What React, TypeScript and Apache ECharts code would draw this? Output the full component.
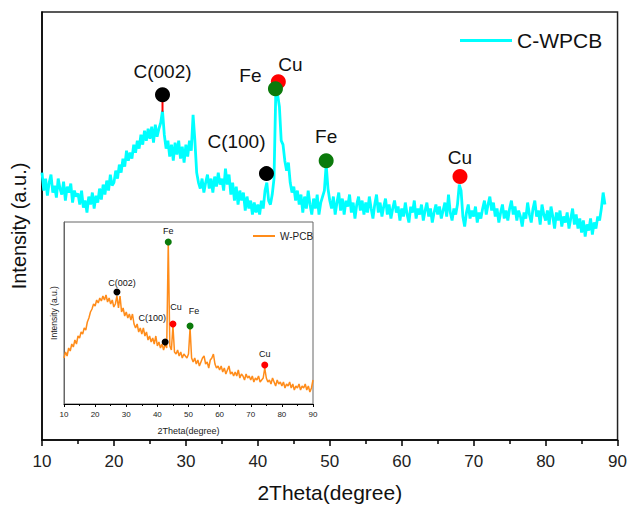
import React, { useEffect, useRef } from "react";
import * as echarts from "echarts";

// 2Theta grid and intensities (arbitrary units) for the main C-WPCB pattern
const mainStart = 10;
const mainStep = 0.25;
const mainIntensity = [
  268, 250, 262, 245, 258, 266, 248, 255, 243, 262, 252, 246, 259, 240, 254, 248, 257, 238, 250, 244,
  247, 236, 250, 233, 240, 228, 244, 236, 248, 232, 245, 238, 252, 241, 256, 246, 260, 250, 266, 255,
  258, 270, 262, 276, 268, 282, 274, 290, 280, 288, 282, 296, 288, 300, 292, 306, 296, 310, 300, 312,
  302, 314, 298, 316, 304, 312, 318, 330, 306, 292, 300, 284, 296, 280, 298, 286, 300, 282, 294, 278,
  296, 284, 300, 290, 326, 300, 268, 258, 252, 262, 248, 258, 266, 252, 262, 248, 264, 254, 268, 256,
  262, 250, 272, 256, 266, 246, 258, 240, 254, 236, 250, 240, 248, 230, 244, 232, 240, 226, 238, 228,
  236, 226, 240, 232, 250, 258, 240, 236, 246, 262, 350, 346, 334, 300, 296, 280, 270, 278, 258, 248,
  254, 240, 250, 236, 246, 228, 244, 232, 250, 236, 226, 242, 232, 246, 226, 238, 244, 250, 276, 252,
  240, 232, 244, 226, 238, 248, 230, 242, 226, 240, 234, 246, 228, 238, 222, 236, 244, 230, 240, 226,
  238, 228, 244, 232, 222, 236, 246, 228, 238, 224, 234, 242, 226, 236, 222, 232, 240, 228, 234, 220,
  232, 224, 238, 226, 218, 234, 228, 240, 222, 232, 226, 236, 220, 230, 238, 224, 232, 218, 228, 236,
  226, 234, 222, 230, 238, 224, 246, 228, 220, 232, 226, 236, 256, 250, 224, 214, 228, 236, 222, 230,
  224, 234, 218, 228, 222, 232, 240, 226, 236, 244, 230, 238, 224, 232, 218, 228, 236, 222, 230, 220,
  232, 240, 226, 234, 220, 230, 224, 214, 228, 222, 238, 226, 218, 232, 240, 224, 230, 216, 236, 226,
  220, 230, 216, 234, 224, 212, 228, 220, 230, 214, 224, 218, 228, 212, 222, 232, 216, 226, 212, 222,
  208, 220, 204, 216, 210, 222, 206, 218, 212, 224, 220, 232, 248, 236,
];

// 2Theta grid and intensities for the inset W-PCB pattern
const insetStart = 10;
const insetStep = 0.5;
const insetIntensity = [
  46, 52, 48, 56, 53, 60, 57, 64, 60, 68,
  66, 72, 70, 76, 74, 82, 86, 92, 95, 100,
  98, 104, 101, 106, 103, 108, 104, 109, 102, 106,
  100, 104, 97, 100, 108, 96, 108, 92, 96, 88,
  92, 86, 90, 84, 90, 80, 76, 80, 72, 76,
  70, 76, 68, 72, 64, 68, 62, 66, 60, 68,
  58, 62, 56, 60, 54, 60, 56, 162, 58, 54,
  78, 52, 50, 54, 48, 52, 46, 50, 48, 46,
  50, 76, 46, 42, 46, 40, 44, 38, 42, 46,
  48, 40, 42, 36, 44, 46, 50, 40, 36, 38,
  34, 38, 32, 36, 30, 34, 38, 30, 32, 28,
  32, 28, 34, 26, 30, 28, 24, 30, 26, 28,
  24, 28, 22, 26, 24, 28, 22, 24, 26, 36,
  26, 22, 24, 20, 26, 22, 18, 24, 20, 22,
  18, 22, 16, 20, 18, 22, 16, 20, 14, 18,
  16, 20, 14, 18, 16, 20, 14, 18, 12, 16,
  24,
];

// Peak markers
const mainPeakLabels = ["C(002)", "C(100)", "Fe", "Cu", "Fe", "Cu"];
const mainPeakPhases = ["C", "C", "Fe", "Cu", "Fe", "Cu"];
const mainPeakX = [26.75, 41.2, 42.45, 42.85, 49.5, 68.1];
const mainPeakY = [346, 267, 352, 359, 280, 264];

const insetPeakLabels = ["C(002)", "C(100)", "Fe", "Cu", "Fe", "Cu"];
const insetPeakPhases = ["C", "C", "Fe", "Cu", "Fe", "Cu"];
const insetPeakX = [27, 42.5, 43.5, 45, 50.5, 74.5];
const insetPeakY = [112, 62, 162, 80, 78, 39];

// Label placement (style)
const mainLabelOffsets = [[0, -23], [-30, -32], [-25, -13], [12, -17], [0, -24], [0, -19]];
const insetLabelOffsets = [[5, -9], [-13, -24], [0, -11], [3, -17], [4, -15], [0, -11]];

const phaseColors: Record<string, string> = { C: "#000000", Fe: "#0b7a0b", Cu: "#ff0000" };
const phaseOrder = ["Cu", "C", "Fe"];

const FONT = "Liberation Sans, Arial, sans-serif";

function peakSeries(
  labels: string[], phases: string[], xs: number[], ys: number[], offsets: number[][],
  axisIndex: number, size: number, fontSize: number
) {
  return phaseOrder.map((ph) => ({
    type: "scatter",
    xAxisIndex: axisIndex,
    yAxisIndex: axisIndex,
    symbolSize: size,
    z: 5,
    itemStyle: { color: phaseColors[ph], opacity: 1 },
    data: labels
      .map((lab, i) => ({ i, lab }))
      .filter(({ i }) => phases[i] === ph)
      .map(({ i, lab }) => ({
        value: [xs[i], ys[i]],
        label: {
          show: true,
          formatter: lab,
          position: "inside",
          offset: offsets[i],
          color: "#111",
          fontSize,
          fontFamily: FONT,
        },
      })),
  }));
}

export default function App() {
  const ref = useRef<HTMLDivElement>(null);
  useEffect(() => {
    if (!ref.current) return;
    const chart = echarts.init(ref.current, undefined, { renderer: "svg" });
    const mainData = mainIntensity.map((v, i) => [mainStart + i * mainStep, v]);
    const insetData = insetIntensity.map((v, i) => [insetStart + i * insetStep, v]);

    const xAxisCommon = (fs: number, tickLen: number, minorLen: number, margin: number, lw: number) => ({
      type: "value",
      min: 10,
      max: 90,
      interval: 10,
      axisLine: { show: true, onZero: false, lineStyle: { color: "#000", width: lw } },
      axisTick: { show: true, inside: false, length: tickLen, lineStyle: { color: "#000", width: lw } },
      minorTick: { show: true, splitNumber: 2, length: minorLen, lineStyle: { color: "#000", width: lw } },
      splitLine: { show: false },
      axisLabel: { fontSize: fs, color: "#222", margin, fontFamily: FONT },
    });

    chart.setOption({
      animation: false,
      backgroundColor: "#fff",
      grid: [
        { left: 42, right: 11, top: 12, bottom: 67, show: true, borderColor: "#222", borderWidth: 1.5 },
        { left: 64, right: 317, top: 222, bottom: 104, show: true, borderColor: "#666", borderWidth: 1, backgroundColor: "#fff", z: 3 },
      ],
      legend: [
        {
          data: [{ name: "C-WPCB", icon: "rect" }],
          left: 455,
          top: 25,
          itemWidth: 52,
          itemHeight: 3,
          textStyle: { fontSize: 21, color: "#111", fontFamily: FONT },
        },
        {
          data: [{ name: "W-PCB", icon: "rect" }],
          left: 248,
          top: 226,
          itemWidth: 22,
          itemHeight: 2,
          z: 6,
          textStyle: { fontSize: 10, color: "#222", fontFamily: FONT },
        },
      ],
      xAxis: [
        {
          ...xAxisCommon(17, 6, 4, 13, 1.5),
          gridIndex: 0,
          name: "2Theta(degree)",
          nameLocation: "middle",
          nameGap: 42,
          nameTextStyle: { fontSize: 21, color: "#111", fontFamily: FONT },
        },
        {
          ...xAxisCommon(8, 3, 2, 6, 1),
          gridIndex: 1,
          z: 4,
          name: "2Theta(degree)",
          nameLocation: "middle",
          nameGap: 22,
          nameTextStyle: { fontSize: 9, color: "#222", fontFamily: FONT },
        },
      ],
      yAxis: [
        {
          type: "value",
          gridIndex: 0,
          min: 0,
          max: 429,
          axisLine: { show: true, lineStyle: { color: "#000", width: 1.5 } },
          axisTick: { show: false },
          axisLabel: { show: false },
          splitLine: { show: false },
          name: "Intensity (a.u.)",
          nameLocation: "middle",
          nameGap: 13,
          nameTextStyle: { fontSize: 20, color: "#111", fontFamily: FONT },
        },
        {
          type: "value",
          gridIndex: 1,
          min: 0,
          max: 182,
          z: 4,
          axisLine: { show: true, lineStyle: { color: "#666", width: 1 } },
          axisTick: { show: false },
          axisLabel: { show: false },
          splitLine: { show: false },
          name: "Intensity (a.u.)",
          nameLocation: "middle",
          nameGap: 6,
          nameTextStyle: { fontSize: 8.5, color: "#222", fontFamily: FONT },
        },
      ],
      series: [
        {
          name: "C-WPCB",
          type: "line",
          xAxisIndex: 0,
          yAxisIndex: 0,
          data: mainData,
          symbol: "none",
          showSymbol: false,
          lineStyle: { color: "#00ffff", width: 2.8 },
          itemStyle: { color: "#00ffff" },
          z: 2,
        },
        {
          type: "line",
          xAxisIndex: 0,
          yAxisIndex: 0,
          data: [[26.75, 329], [26.75, 341]],
          symbol: "none",
          lineStyle: { color: "#ff0000", width: 2 },
          z: 3,
        },
        ...peakSeries(mainPeakLabels, mainPeakPhases, mainPeakX, mainPeakY, mainLabelOffsets, 0, 15, 19),
        {
          name: "W-PCB",
          type: "line",
          xAxisIndex: 1,
          yAxisIndex: 1,
          data: insetData,
          symbol: "none",
          showSymbol: false,
          lineStyle: { color: "#ff8c1a", width: 1.5 },
          itemStyle: { color: "#ff8c1a" },
          z: 5,
        },
        ...peakSeries(insetPeakLabels, insetPeakPhases, insetPeakX, insetPeakY, insetLabelOffsets, 1, 7, 9),
      ],
    });
    return () => chart.dispose();
  }, []);
  return <div ref={ref} style={{ width: 630, height: 508, position: "absolute", left: 0, top: 0 }} />;
}
